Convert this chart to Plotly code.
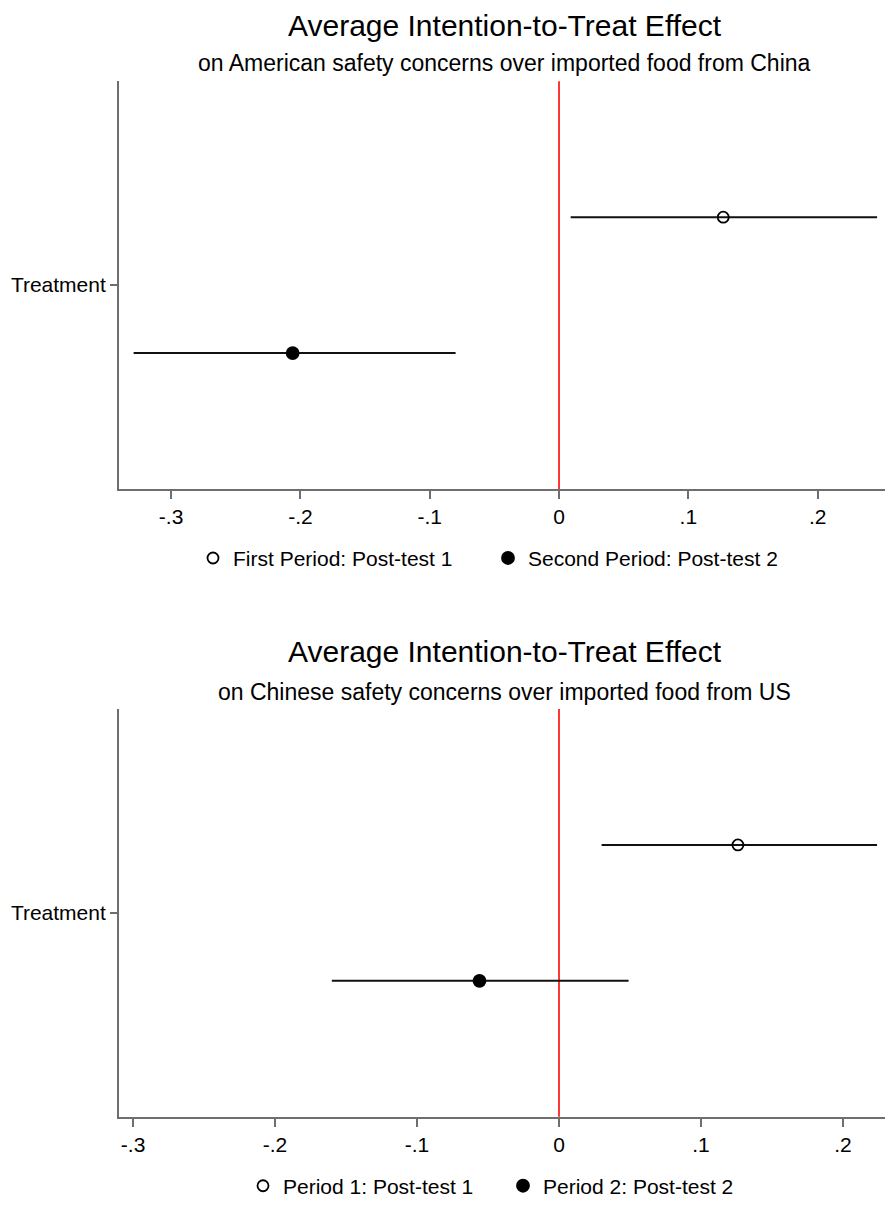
import plotly.graph_objects as go

# ---------------- data ----------------
categories = ["Treatment"]
tick_vals = [-0.3, -0.2, -0.1, 0, 0.1, 0.2]
tick_text = ["-.3", "-.2", "-.1", "0", ".1", ".2"]

top_title = "Average Intention-to-Treat Effect"
top_subtitle = "on American safety concerns over imported food from China"
top_series = ["First Period: Post-test 1", "Second Period: Post-test 2"]
top_est = [0.127, -0.206]
top_lo = [0.009, -0.329]
top_hi = [0.246, -0.080]

bot_title = "Average Intention-to-Treat Effect"
bot_subtitle = "on Chinese safety concerns over imported food from US"
bot_series = ["Period 1: Post-test 1", "Period 2: Post-test 2"]
bot_est = [0.126, -0.056]
bot_lo = [0.030, -0.160]
bot_hi = [0.224, 0.049]

# ---------------- styling ----------------
W, H = 885, 1207
FONT = "Liberation Sans, Arial, Helvetica, sans-serif"
AXIS_COLOR = "#6e6e6e"
symbols = ["circle-open", "circle"]
sizes = [11, 12]

fig = go.Figure()

def add_panel(series, est, lo, hi, xaxis, yaxis, legend):
    for i, name in enumerate(series):
        fig.add_trace(go.Scatter(
            x=[est[i]], y=categories,
            mode="markers",
            name=name,
            orientation="h",
            offsetgroup=f"{xaxis}-{i}",
            alignmentgroup=xaxis,
            xaxis=xaxis, yaxis=yaxis, legend=legend,
            marker=dict(symbol=symbols[i], size=sizes[i], color="black",
                        line=dict(color="black", width=1.8)),
            error_x=dict(type="data", symmetric=False,
                         array=[hi[i] - est[i]], arrayminus=[est[i] - lo[i]],
                         width=0, thickness=2, color="#111111"),
        ))

add_panel(top_series, top_est, top_lo, top_hi, "x", "y", "legend")
add_panel(bot_series, bot_est, bot_lo, bot_hi, "x2", "y2", "legend2")

def py(px):
    return 1 - px / H

x_left = 119 / W
top_dom = [py(493), py(82)]
bot_dom = [py(1126), py(715)]

common_x = dict(
    tickmode="array", tickvals=tick_vals, ticktext=tick_text,
    showgrid=False, zeroline=False, showline=True, linecolor=AXIS_COLOR,
    linewidth=2, ticks="outside", ticklen=8, tickwidth=1.5, tickcolor=AXIS_COLOR,
    tickfont=dict(family=FONT, size=21, color="black"),
    domain=[x_left, 1.0], fixedrange=True,
)
common_y = dict(
    type="category", range=[0.5, -0.5],
    showgrid=False, zeroline=False, showline=True, linecolor=AXIS_COLOR,
    linewidth=2, ticks="outside", ticklen=7, tickwidth=1.5, tickcolor=AXIS_COLOR,
    tickfont=dict(family=FONT, size=21, color="black"), fixedrange=True,
)

fig.update_layout(
    width=W, height=H,
    margin=dict(l=0, r=0, t=0, b=0),
    paper_bgcolor="white", plot_bgcolor="white",
    scattermode="group", scattergap=1 / 3,
    font=dict(family=FONT, color="black"),
    xaxis=dict(common_x, range=[-0.3403, 0.2521], anchor="y"),
    yaxis=dict(common_y, domain=top_dom, anchor="x"),
    xaxis2=dict(common_x, range=[-0.3099, 0.2296], anchor="y2"),
    yaxis2=dict(common_y, domain=bot_dom, anchor="x2"),
    legend=dict(orientation="h", x=193 / W, xanchor="left", y=py(563), yanchor="middle",
                font=dict(family=FONT, size=21, color="black"), itemwidth=30,
                entrywidth=250),
    legend2=dict(orientation="h", x=243 / W, xanchor="left", y=py(1196), yanchor="middle",
                 font=dict(family=FONT, size=21, color="black"), itemwidth=30,
                 entrywidth=215),
    showlegend=True,
)

# reference line at zero
for xr, yr in [("x", "y domain"), ("x2", "y2 domain")]:
    fig.add_shape(type="line", xref=xr, yref=yr, x0=0, x1=0, y0=0, y1=1,
                  line=dict(color="#ff2020", width=1.8), layer="below")

# titles
cx = 505 / W
for title, sub, ty, sy in [(top_title, top_subtitle, 25.5, 64), (bot_title, bot_subtitle, 657, 697.5)]:
    fig.add_annotation(text=title, xref="paper", yref="paper", x=cx, y=py(ty),
                       xanchor="center", yanchor="middle", showarrow=False,
                       font=dict(family=FONT, size=30, color="black"))
    fig.add_annotation(text=sub, xref="paper", yref="paper", x=cx, y=py(sy),
                       xanchor="center", yanchor="middle", showarrow=False,
                       font=dict(family=FONT, size=23, color="black"))

fig.write_html("out.html")
